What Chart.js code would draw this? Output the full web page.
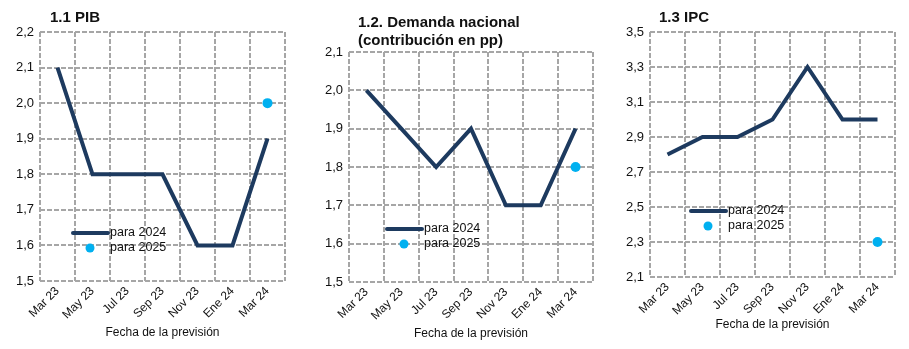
<!DOCTYPE html>
<html>
<head>
<meta charset="utf-8">
<script src="https://cdn.jsdelivr.net/npm/chart.js@4"></script>
<style>
  body { margin: 0; background: #fff; width: 909px; height: 349px; position: relative; overflow: hidden; font-family: "Liberation Sans", Arial, sans-serif; }
  .panel { position: absolute; top: 0; height: 349px; }
  .titulo { position: absolute; font-weight: bold; font-size: 15px; color: #111; line-height: 18px; }
</style>
</head>
<body>
<div class="panel" style="left:0;width:300px"><canvas id="c1"></canvas></div>
<div class="panel" style="left:300px;width:310px"><canvas id="c2"></canvas></div>
<div class="panel" style="left:610px;width:299px"><canvas id="c3"></canvas></div>
<div class="titulo" style="left:50px;top:8px">1.1 PIB</div>
<div class="titulo" style="left:358px;top:13px">1.2. Demanda nacional<br>(contribución en pp)</div>
<div class="titulo" style="left:659px;top:8px">1.3 IPC</div>
<script>
// Fechas de previsión
var fechas = ['Mar 23', 'May 23', 'Jul 23', 'Sep 23', 'Nov 23', 'Ene 24', 'Mar 24'];

// 1.1 PIB
var pib2024 = [2.1, 1.8, 1.8, 1.8, 1.6, 1.6, 1.9];
var pib2025 = [null, null, null, null, null, null, 2.0];

// 1.2 Demanda nacional
var demanda2024 = [2.0, 1.9, 1.8, 1.9, 1.7, 1.7, 1.9];
var demanda2025 = [null, null, null, null, null, null, 1.8];

// 1.3 IPC
var ipc2024 = [2.8, 2.9, 2.9, 3.0, 3.3, 3.0, 3.0];
var ipc2025 = [null, null, null, null, null, null, 2.3];

var COL_LINEA = '#1d3a5f';
var COL_PUNTO = '#00b0f0';
var COL_GRID = '#a6a6a6';
var COL_TEXTO = '#111111';

Chart.defaults.font.family = '"Liberation Sans", Arial, sans-serif';
Chart.defaults.color = COL_TEXTO;

// leyenda dentro del area del grafico
var leyendaInterna = {
    id: 'leyendaInterna',
    afterDraw: function (chart, args, opts) {
        var ctx = chart.ctx;
        var x = opts.x, y = opts.y;
        ctx.save();
        ctx.strokeStyle = COL_LINEA;
        ctx.lineWidth = 4;
        ctx.lineCap = 'round';
        ctx.beginPath();
        ctx.moveTo(x, y);
        ctx.lineTo(x + 35, y);
        ctx.stroke();
        ctx.fillStyle = COL_PUNTO;
        ctx.beginPath();
        ctx.arc(x + 17, y + 15, 4.5, 0, Math.PI * 2);
        ctx.fill();
        ctx.fillStyle = COL_TEXTO;
        ctx.font = '12.5px "Liberation Sans", Arial, sans-serif';
        ctx.textBaseline = 'middle';
        ctx.fillText(chart.data.datasets[0].label, x + 37, y);
        ctx.fillText(chart.data.datasets[1].label, x + 37, y + 15);
        ctx.restore();
    }
};

function crearGrafico(id, serie2024, serie2025, yMin, yMax, paso, opts) {
    var ctx = document.getElementById(id).getContext('2d');
    return new Chart(ctx, {
        type: 'line',
        data: {
            labels: fechas,
            datasets: [
                {
                    label: 'para 2024',
                    data: serie2024,
                    borderColor: COL_LINEA,
                    borderWidth: 4,
                    pointRadius: 0,
                    tension: 0
                },
                {
                    label: 'para 2025',
                    data: serie2025,
                    showLine: false,
                    pointRadius: 5,
                    pointBackgroundColor: COL_PUNTO,
                    pointBorderWidth: 0
                }
            ]
        },
        options: {
            responsive: true,
            maintainAspectRatio: false,
            animation: false,
            layout: { padding: { left: 0, right: opts.padRight, top: opts.padTop, bottom: 0 } },
            scales: {
                x: {
                    offset: true,
                    afterFit: function (s) { s.height = opts.xAlto; },
                    grid: { offset: true, color: COL_GRID, lineWidth: 2, drawTicks: false },
                    border: { display: false, dash: [5, 2] },
                    ticks: { minRotation: 45, maxRotation: 45, padding: 3, font: { size: 12 } },
                    title: { display: true, text: 'Fecha de la previsión', font: { size: 12 }, padding: { top: 0, bottom: opts.tituloAbajo } }
                },
                y: {
                    min: yMin,
                    max: yMax,
                    afterFit: function (s) { s.width = opts.yAncho; },
                    grid: { color: COL_GRID, lineWidth: 2, drawTicks: false },
                    border: { display: false, dash: [5, 2] },
                    ticks: {
                        stepSize: paso,
                        padding: 6,
                        font: { size: 13 },
                        callback: function (v) { return v.toFixed(1).replace('.', ','); }
                    }
                }
            },
            plugins: {
                legend: { display: false },
                tooltip: { enabled: false },
                leyendaInterna: { x: opts.legX, y: opts.legY }
            }
        },
        plugins: [leyendaInterna]
    });
}

crearGrafico('c1', pib2024, pib2025, 1.5, 2.2, 0.1,
    { padRight: 15, padTop: 32, xAlto: 68, yAncho: 40, tituloAbajo: 9, legX: 73, legY: 233 });
crearGrafico('c2', demanda2024, demanda2025, 1.5, 2.1, 0.1,
    { padRight: 17, padTop: 52, xAlto: 67, yAncho: 49, tituloAbajo: 8, legX: 87, legY: 229 });
crearGrafico('c3', ipc2024, ipc2025, 2.1, 3.5, 0.2,
    { padRight: 14, padTop: 32, xAlto: 72, yAncho: 40, tituloAbajo: 17, legX: 81, legY: 211 });
</script>
</body>
</html>
